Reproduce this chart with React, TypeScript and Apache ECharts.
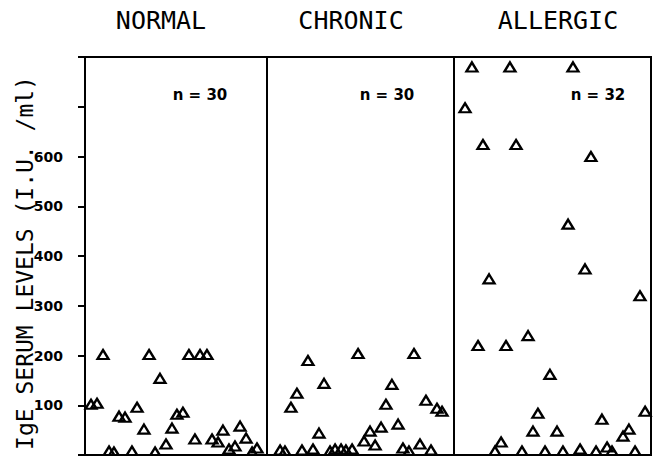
import React, { useEffect, useRef } from "react";
import * as echarts from "echarts";

// Panel titles and sample sizes
const groups = ["NORMAL", "CHRONIC", "ALLERGIC"];
const sampleSizes = ["n = 30", "n = 30", "n = 32"];

// Y axis ticks (IgE, I.U./ml)
const yMin = 0;
const yMax = 800;
const yStep = 100;
const labeledTicks = [100, 200, 300, 400, 500, 600];

// Horizontal scatter position of each subject within its panel (0-100) and IgE level
const normalPos = [3.3, 6.6, 9.9, 13.2, 15.9, 18.7, 22.0, 25.8, 28.6, 32.4, 35.2, 38.5, 41.2, 44.5, 47.8, 50.5, 53.8, 57.1, 60.4, 63.2, 67.0, 69.8, 73.1, 75.8, 79.1, 82.4, 85.2, 88.5, 91.8, 94.5];
const normalIgE = [102, 104, 202, 8, 6, 78, 76, 8, 96, 52, 202, 6, 154, 22, 54, 82, 86, 202, 32, 202, 202, 32, 26, 50, 12, 18, 58, 34, 6, 14];

const chronicPos = [7.0, 9.6, 12.8, 16.0, 18.7, 21.9, 24.6, 27.8, 30.5, 33.7, 36.4, 39.6, 42.2, 45.5, 48.7, 51.9, 55.1, 57.8, 61.0, 63.6, 66.8, 70.1, 72.7, 75.9, 78.6, 81.8, 85.0, 87.7, 90.9, 93.6];
const chronicIgE = [10, 8, 96, 124, 10, 190, 12, 44, 144, 8, 12, 12, 10, 12, 204, 28, 48, 20, 56, 102, 142, 62, 14, 8, 204, 22, 110, 10, 94, 88];

const allergicPos = [5.6, 9.1, 12.2, 14.7, 17.8, 20.8, 23.9, 26.4, 28.4, 31.5, 34.5, 37.6, 40.1, 42.6, 46.2, 48.7, 52.3, 55.3, 57.9, 60.4, 64.0, 66.5, 69.5, 72.1, 75.1, 77.7, 80.2, 85.8, 88.8, 91.9, 94.4, 97.0];
const allergicIgE = [698, 780, 220, 624, 354, 8, 26, 220, 780, 624, 8, 240, 48, 84, 8, 162, 48, 8, 464, 780, 12, 374, 600, 8, 72, 16, 8, 38, 52, 8, 320, 88];

const positions = [normalPos, chronicPos, allergicPos];
const levels = [normalIgE, chronicIgE, allergicIgE];

export default function App() {
  const ref = useRef<HTMLDivElement>(null);

  useEffect(() => {
    if (!ref.current) return;
    const chart = echarts.init(ref.current, null, { renderer: "svg" });

    const gridLefts = [85, 267, 454];
    const gridWidths = [182, 187, 197];
    const top = 57;
    const height = 398;
    const titleCenters = [161, 351, 558];
    const nCenters = [200, 387, 598];

    const grids = gridLefts.map((l, i) => ({
      left: l,
      top,
      width: gridWidths[i],
      height,
      show: true,
      borderColor: "#000",
      borderWidth: 2,
      backgroundColor: "transparent",
    }));

    const xAxes = groups.map((_, i) => ({
      type: "value" as const,
      gridIndex: i,
      min: 0,
      max: 100,
      show: false,
    }));

    const yAxes = groups.map((_, i) => ({
      type: "value" as const,
      gridIndex: i,
      min: yMin,
      max: yMax,
      interval: yStep,
      show: i === 0,
      splitLine: { show: false },
      axisLine: { show: true, lineStyle: { color: "#000", width: 2 } },
      axisTick: { show: true, inside: false, length: 7, lineStyle: { color: "#000", width: 2 } },
      axisLabel: {
        show: true,
        margin: 22,
        color: "#000",
        fontFamily: "DejaVu Sans",
        fontWeight: "bold" as const,
        fontSize: 14,
        formatter: (v: number) => (labeledTicks.includes(v) ? String(v) : ""),
      },
    }));

    const series = groups.map((g, i) => ({
      name: g,
      type: "scatter" as const,
      xAxisIndex: i,
      yAxisIndex: i,
      symbol: "triangle",
      symbolSize: [11, 9],
      itemStyle: { color: "rgba(0,0,0,0)", borderColor: "#000", borderWidth: 2.3, opacity: 1 },
      data: positions[i].map((p, k) => [p, levels[i][k]]),
    }));

    const graphics: any[] = [];
    groups.forEach((g, i) => {
      graphics.push({
        type: "text",
        x: titleCenters[i],
        y: 20,
        style: {
          text: g,
          fill: "#000",
          font: "25px 'DejaVu Sans Mono'",
          textAlign: "center",
          textVerticalAlign: "middle",
        },
      });
      graphics.push({
        type: "text",
        x: nCenters[i],
        y: 95,
        style: {
          text: sampleSizes[i],
          fill: "#000",
          font: "bold 15px 'DejaVu Sans'",
          textAlign: "center",
          textVerticalAlign: "middle",
        },
      });
    });
    graphics.push({
      type: "text",
      x: 25,
      y: 263,
      rotation: Math.PI / 2,
      style: {
        text: "IgE SERUM LEVELS (I.U. /ml)",
        fill: "#000",
        font: "23px 'DejaVu Sans Mono'",
        textAlign: "center",
        textVerticalAlign: "middle",
      },
    });

    chart.setOption({
      animation: false,
      backgroundColor: "#fff",
      grid: grids,
      xAxis: xAxes,
      yAxis: yAxes,
      series,
      graphic: graphics,
    });

    return () => chart.dispose();
  }, []);

  return (
    <div
      ref={ref}
      style={{ position: "absolute", left: 0, top: 0, width: 655, height: 456 }}
    />
  );
}
